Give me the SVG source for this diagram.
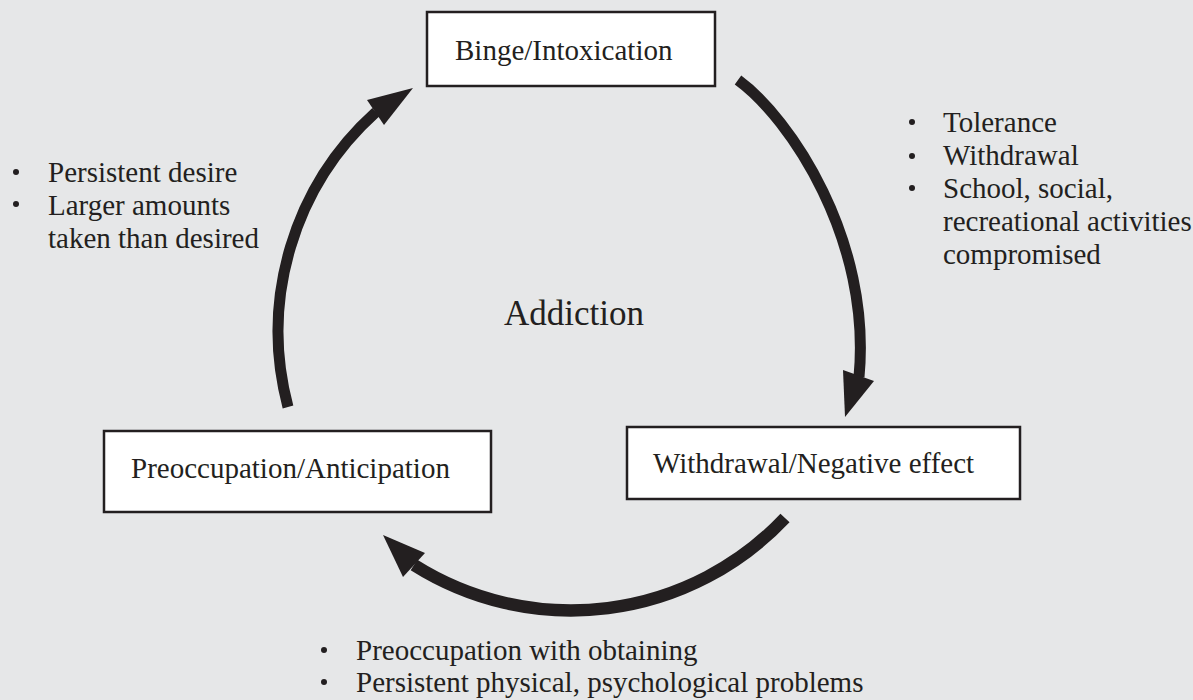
<svg xmlns="http://www.w3.org/2000/svg" width="1193" height="700" viewBox="0 0 1193 700">
  <style>
    .bg { fill: #e6e7e8; }
    .box { fill: #ffffff; stroke: #231f20; stroke-width: 2.5; }
    .lbl { font-family: 'Liberation Serif', 'DejaVu Serif', 'Times New Roman', serif; font-size: 29px; fill: #231f20; }
    .title { font-family: 'Liberation Serif', 'DejaVu Serif', 'Times New Roman', serif; font-size: 35px; fill: #231f20; }
    .shaft { fill: none; stroke: #231f20; stroke-width: 11; }
    .shaft.wide { stroke-width: 12.5; }
    .head { fill: #231f20; }
    .dot { fill: #231f20; }
  </style>
  <rect class="bg" x="0" y="0" width="1193" height="700"/>

  <!-- cycle arrows: binge -> withdrawal -> preoccupation -> binge -->
  <g id="connectors">
    <path class="shaft" d="M738,80 C790,118 872,240 859,377"/>
    <polygon class="head" points="843,370 874,381 845,417"/>
    <path class="shaft wide" d="M785,518 A294,294 0 0 1 414,565"/>
    <polygon class="head" points="403,577 425,553 383,535"/>
    <path class="shaft" d="M288,407 A295,295 0 0 1 376,112"/>
    <polygon class="head" points="367,100 384,125 413,88"/>
  </g>

  <g id="binge">
    <rect class="box" x="427" y="12" width="288" height="74"/>
    <text class="lbl" x="455" y="60">Binge/Intoxication</text>
  </g>

  <g id="withdrawal">
    <rect class="box" x="627" y="427" width="393" height="72"/>
    <text class="lbl" x="653" y="473">Withdrawal/Negative effect</text>
  </g>

  <g id="preoccupation">
    <rect class="box" x="104" y="431" width="387" height="81"/>
    <text class="lbl" x="131" y="478">Preoccupation/Anticipation</text>
  </g>

  <g id="addiction">
    <text class="title" x="504" y="325">Addiction</text>
  </g>

  <!-- notes beside each stage -->
  <g id="notes-right">
    <circle class="dot" cx="912" cy="122" r="3"/>
    <circle class="dot" cx="912" cy="156" r="3"/>
    <circle class="dot" cx="912" cy="188" r="3"/>
    <text class="lbl" x="943" y="132">Tolerance</text>
    <text class="lbl" x="943" y="165">Withdrawal</text>
    <text class="lbl" x="943" y="198">School, social,</text>
    <text class="lbl" x="943" y="231">recreational activities</text>
    <text class="lbl" x="943" y="264">compromised</text>
  </g>

  <g id="notes-left">
    <circle class="dot" cx="16" cy="172" r="3"/>
    <circle class="dot" cx="16" cy="204" r="3"/>
    <text class="lbl" x="48" y="182">Persistent desire</text>
    <text class="lbl" x="48" y="215">Larger amounts</text>
    <text class="lbl" x="48" y="248">taken than desired</text>
  </g>

  <g id="notes-bottom">
    <circle class="dot" cx="324" cy="650" r="3"/>
    <circle class="dot" cx="324" cy="682" r="3"/>
    <text class="lbl" x="356" y="660">Preoccupation with obtaining</text>
    <text class="lbl" x="356" y="692">Persistent physical, psychological problems</text>
  </g>
</svg>
